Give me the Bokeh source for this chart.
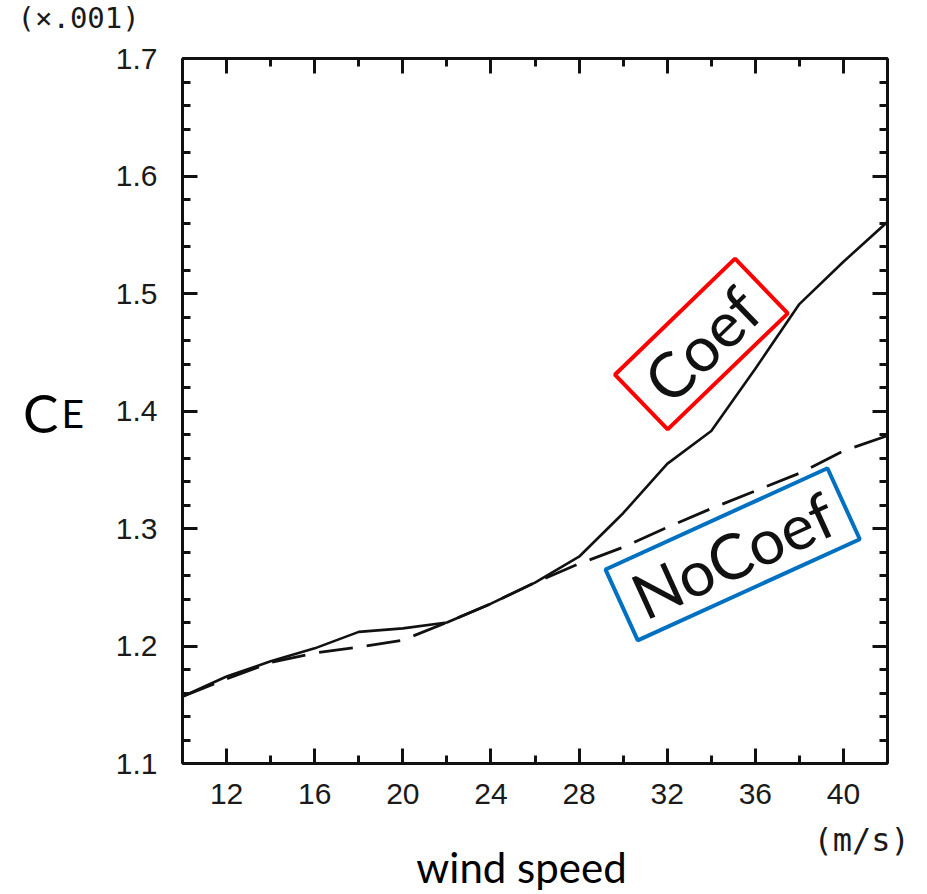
import math
from bokeh.plotting import figure
from bokeh.layouts import column, row
from bokeh.models import (LinearAxis, FixedTicker, PrintfTickFormatter,
                          CustomJSTickFormatter, Range1d)
from bokeh.core.properties import value
from bokeh.embed import file_html
from bokeh.resources import INLINE

# ---------------- data ----------------
wind_speed = [10, 12, 14, 16, 18, 20, 22, 24, 26, 28, 30, 32, 34, 36, 38, 40, 42]
ce_coef = [1.157, 1.174, 1.187, 1.198, 1.212, 1.215, 1.220, 1.236, 1.254, 1.276,
           1.313, 1.355, 1.383, 1.436, 1.491, 1.527, 1.561]
ce_nocoef = [1.157, 1.172, 1.186, 1.194, 1.199, 1.205, 1.220, 1.236, 1.254, 1.270,
             1.284, 1.301, 1.317, 1.332, 1.347, 1.366, 1.379]
x_ticks = [12, 16, 20, 24, 28, 32, 36, 40]
x_minor = [10, 14, 18, 22, 26, 30, 34, 38, 42]
y_ticks = [1.1, 1.2, 1.3, 1.4, 1.5, 1.6, 1.7]
y_minor = [round(1.1 + 0.02 * i, 2) for i in range(31)]

# annotation boxes (data-space centres, angles in degrees)
ann_text = ["Coef", "NoCoef"]
ann_x = [33.55, 34.97]
ann_y = [1.457, 1.278]
ann_angle_deg = [44, 24.5]
ann_w = [167, 244]
ann_h = [76, 78]
ann_color = ["#FF0000", "#0070C0"]
ann_angle = [math.radians(a) for a in ann_angle_deg]

# page geometry (pixels)
W, H = 927, 894
HEAD_H = 35
LEFT_W = 112
FOOT_H = 73
MAIN_W = W - LEFT_W
MAIN_H = H - HEAD_H - FOOT_H

# ---------------- main chart ----------------
p = figure(width=MAIN_W, height=MAIN_H, x_range=(10, 42), y_range=(1.1, 1.7),
           output_backend="svg", toolbar_location=None,
           min_border_left=70, min_border_right=40,
           min_border_top=23, min_border_bottom=MAIN_H - 23 - 705)
p.background_fill_color = "white"
p.border_fill_color = "white"
p.outline_line_color = None
p.xgrid.visible = False
p.ygrid.visible = False

blank = CustomJSTickFormatter(code="return ''")


def style_axis(ax, xaxis, labels):
    if xaxis:
        ax.ticker = FixedTicker(ticks=x_ticks, minor_ticks=x_minor)
    else:
        ax.ticker = FixedTicker(ticks=y_ticks, minor_ticks=y_minor)
        ax.formatter = PrintfTickFormatter(format="%.1f")
    ax.axis_line_width = 3
    ax.axis_line_color = "#111111"
    ax.major_tick_in = 15
    ax.major_tick_out = 0
    ax.minor_tick_in = 8
    ax.minor_tick_out = 0
    ax.major_tick_line_width = 3
    ax.minor_tick_line_width = 3
    ax.major_tick_line_color = "#111111"
    ax.minor_tick_line_color = "#111111"
    if labels:
        ax.major_label_text_font = "Liberation Sans"
        ax.major_label_text_font_size = "30px"
        ax.major_label_text_color = "#1a1a1a"
        ax.major_label_standoff = 20 if xaxis else 25
    else:
        ax.formatter = blank
        ax.major_label_standoff = 0


style_axis(p.xaxis[0], True, True)
style_axis(p.yaxis[0], False, True)
top = LinearAxis()
style_axis(top, True, False)
p.add_layout(top, "above")
right = LinearAxis()
style_axis(right, False, False)
p.add_layout(right, "right")

# data lines
p.line(wind_speed, ce_nocoef, line_color="#111111", line_width=2.8,
       line_dash="34 14")
p.line(wind_speed, ce_coef, line_color="#111111", line_width=2.6)

# annotation boxes and texts
p.rect(x=ann_x, y=ann_y, width=ann_w, height=ann_h, angle=ann_angle,
       width_units="screen", height_units="screen",
       fill_color=None, line_color=ann_color, line_width=4)
p.text(x=ann_x, y=ann_y, text=ann_text, angle=ann_angle,
       text_align="center", text_baseline="middle",
       text_font=value("Lato"), text_font_size="63px", text_color="#111111")


# ---------------- text-only panels around the chart ----------------
def text_panel(w, h):
    f = figure(width=w, height=h, x_range=Range1d(0, w), y_range=Range1d(h, 0),
               output_backend="svg", toolbar_location=None,
               x_axis_location=None, y_axis_location=None,
               min_border_left=0, min_border_right=0,
               min_border_top=0, min_border_bottom=0)
    f.outline_line_color = None
    f.background_fill_color = "white"
    f.border_fill_color = "white"
    f.xgrid.visible = False
    f.ygrid.visible = False
    return f


head = text_panel(W, HEAD_H)
head.text(x=[17], y=[17], text=["(×.001)"], text_align="left",
          text_baseline="middle", text_font=value("DejaVu Sans Mono"),
          text_font_size="29px", text_color="#1a1a1a")

left = text_panel(LEFT_W, MAIN_H)
left.text(x=[58], y=[430 - HEAD_H], text=["C"], text_align="right",
          text_baseline="alphabetic", text_font=value("Lato"),
          text_font_size="53px", text_color="#000000")
left.text(x=[61], y=[430 - HEAD_H], text=["E"], text_align="left",
          text_baseline="alphabetic", text_font=value("Lato"),
          text_font_size="39px", text_color="#000000")

foot = text_panel(W, FOOT_H)
foot_top = H - FOOT_H
foot.text(x=[813], y=[839 - foot_top], text=["(m/s)"], text_align="left",
          text_baseline="middle", text_font=value("DejaVu Sans Mono"),
          text_font_size="32px", text_color="#1a1a1a")
foot.text(x=[521], y=[866 - foot_top], text=["wind speed"], text_align="center",
          text_baseline="middle", text_font=value("Lato"),
          text_font_size="42px", text_color="#000000")

layout = column(head, row(left, p), foot)

open("out.html", "w").write(file_html(layout, INLINE))
